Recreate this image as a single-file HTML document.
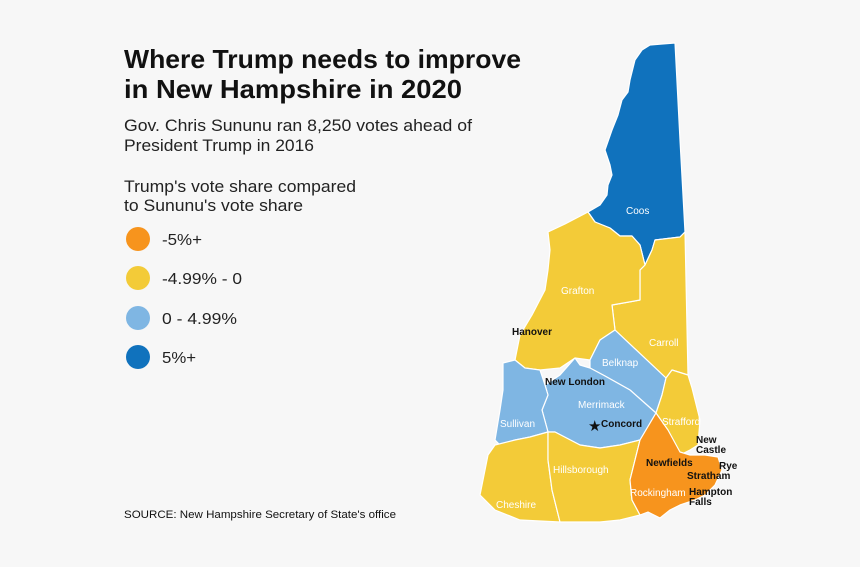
<!DOCTYPE html>
<html><head><meta charset="utf-8"><style>
body{margin:0;background:#f7f7f7;width:860px;height:567px;overflow:hidden;font-family:"Liberation Sans",sans-serif}
svg{position:absolute;left:0;top:0}
</style></head><body>
<svg width="860" height="567" viewBox="0 0 860 567">
<rect width="860" height="567" fill="#f7f7f7"/>
<text x="124" y="68" font-size="26" font-weight="bold" fill="#111" textLength="397" lengthAdjust="spacingAndGlyphs">Where Trump needs to improve</text>
<text x="124" y="98" font-size="26" font-weight="bold" fill="#111" textLength="338" lengthAdjust="spacingAndGlyphs">in New Hampshire in 2020</text>
<text x="124" y="131" font-size="17" fill="#222" textLength="348" lengthAdjust="spacingAndGlyphs">Gov. Chris Sununu ran 8,250 votes ahead of</text>
<text x="124" y="151" font-size="17" fill="#222" textLength="190" lengthAdjust="spacingAndGlyphs">President Trump in 2016</text>
<text x="124" y="192" font-size="16.5" fill="#222" textLength="232" lengthAdjust="spacingAndGlyphs">Trump's vote share compared</text>
<text x="124" y="211" font-size="16.5" fill="#222" textLength="179" lengthAdjust="spacingAndGlyphs">to Sununu's vote share</text>
<circle cx="138" cy="239" r="12" fill="#f7941d"/>
<circle cx="138" cy="278" r="12" fill="#f3cb38"/>
<circle cx="138" cy="318" r="12" fill="#7fb6e3"/>
<circle cx="138" cy="357" r="12" fill="#1072bd"/>
<text x="162" y="245" font-size="16" fill="#222" textLength="40" lengthAdjust="spacingAndGlyphs">-5%+</text>
<text x="162" y="284" font-size="16" fill="#222" textLength="80" lengthAdjust="spacingAndGlyphs">-4.99% - 0</text>
<text x="162" y="324" font-size="16" fill="#222" textLength="75" lengthAdjust="spacingAndGlyphs">0 - 4.99%</text>
<text x="162" y="363" font-size="16" fill="#222" textLength="34" lengthAdjust="spacingAndGlyphs">5%+</text>
<text x="124" y="518" font-size="11" fill="#111" textLength="272" lengthAdjust="spacingAndGlyphs">SOURCE: New Hampshire Secretary of State's office</text>
<g stroke="#fff" stroke-width="1.2" stroke-linejoin="round">
<polygon fill="#1072bd" points="650,45 662,44 675,43 680,140 685,232 680,237 655,240 652,250 645,265 640,245 632,236 620,236 610,228 595,222 588,212 600,205 607,195 608,185 612,175 610,165 605,150 612,130 618,115 622,100 628,92 630,80 635,60 642,50"/>
<polygon fill="#f3cb38" points="645,265 652,250 655,240 680,237 685,232 688,375 672,370 666,378 615,330 612,305 640,300 640,270"/>
<polygon fill="#f3cb38" points="548,232 565,224 588,212 595,222 610,228 620,236 632,236 640,245 645,265 640,270 640,300 612,305 615,330 600,340 590,360 575,358 560,368 540,370 525,368 515,360 520,335 532,315 545,290 548,270 550,250"/>
<polygon fill="#7fb6e3" points="600,340 615,330 666,378 662,395 656,413 630,390 605,376 590,368 590,360"/>
<polygon fill="#f3cb38" points="666,378 672,370 688,375 692,388 700,420 698,445 690,450 680,455 668,452 656,413 662,395"/>
<polygon fill="#7fb6e3" points="545,385 560,375 575,358 580,365 590,368 605,376 630,390 656,413 640,440 620,445 600,448 580,445 555,432 548,432 542,410 548,395"/>
<polygon fill="#7fb6e3" points="503,363 515,360 525,368 540,370 545,385 548,395 542,410 548,432 530,437 515,440 500,445 495,440 500,410 503,390"/>
<polygon fill="#f3cb38" points="495,445 515,440 530,437 548,432 548,460 552,490 560,522 520,520 495,510 480,495 485,470 488,455"/>
<polygon fill="#f3cb38" points="548,432 555,432 580,445 600,448 620,445 640,440 635,460 630,480 632,500 640,515 620,520 600,522 560,522 552,490 548,460"/>
<polygon fill="#f7941d" points="656,413 668,430 680,452 690,455 705,455 718,457 722,470 715,485 705,495 695,500 680,505 670,510 660,518 648,512 640,515 632,500 630,480 635,460 640,440"/>
</g>
<g font-size="10" fill="#fff">
<text x="626" y="214">Coos</text>
<text x="561" y="294">Grafton</text>
<text x="649" y="346">Carroll</text>
<text x="602" y="366">Belknap</text>
<text x="578" y="408">Merrimack</text>
<text x="500" y="427">Sullivan</text>
<text x="662" y="425">Strafford</text>
<text x="553" y="473">Hillsborough</text>
<text x="496" y="508">Cheshire</text>
<text x="630" y="496">Rockingham</text>
</g>
<g font-size="10" font-weight="bold" fill="#111">
<text x="512" y="335">Hanover</text>
<text x="545" y="385">New London</text>
<text x="601" y="427">Concord</text>
<text x="646" y="466">Newfields</text>
<text x="696" y="443">New</text>
<text x="696" y="453">Castle</text>
<text x="719" y="469">Rye</text>
<text x="687" y="479">Stratham</text>
<text x="689" y="495">Hampton</text>
<text x="689" y="505">Falls</text>
</g>
<text x="588" y="431" font-size="15" fill="#111">★</text>
</svg>
</body></html>
